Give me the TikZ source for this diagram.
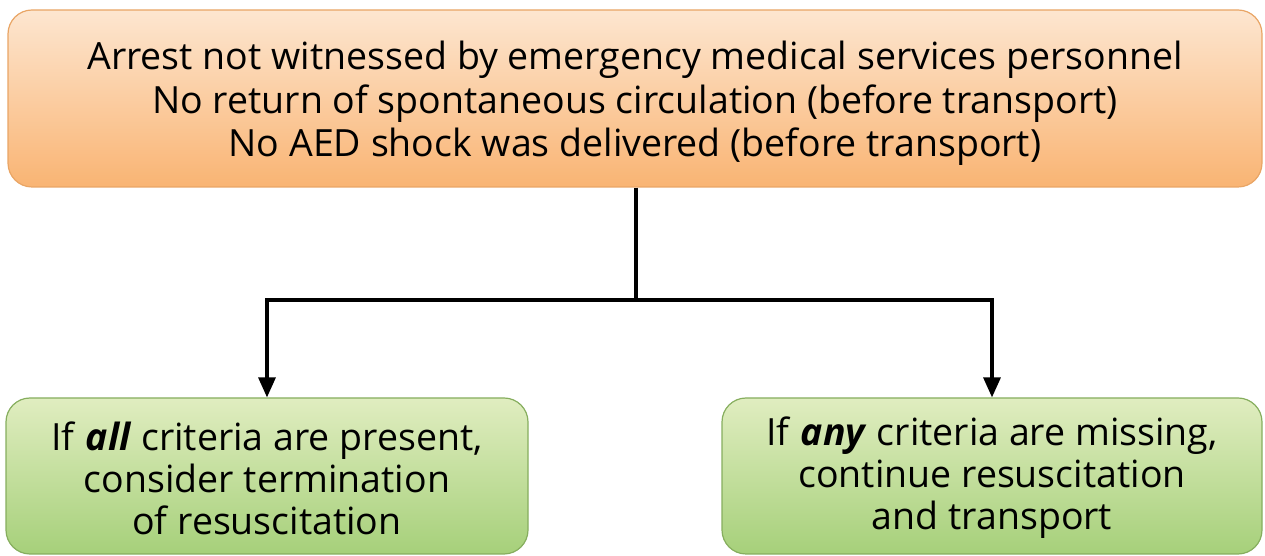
\documentclass[tikz,border=0pt]{standalone}
\usepackage{fontspec}
\setmainfont{Open Sans}
\usetikzlibrary{arrows.meta}
\definecolor{orTop}{HTML}{FDE6D0}
\definecolor{orBot}{HTML}{F9B473}
\definecolor{orLine}{HTML}{E9A565}
\definecolor{grTop}{HTML}{E0EDC0}
\definecolor{grBot}{HTML}{A6D07A}
\definecolor{grLine}{HTML}{86AE5E}
\tikzset{
  topbox/.style={draw=orLine, line width=1.2pt, rounded corners=24pt, top color=orTop, bottom color=orBot,
    minimum width=1254pt, minimum height=177pt, inner sep=0pt},
  leafbox/.style={draw=grLine, line width=1.2pt, rounded corners=24pt, top color=grTop, bottom color=grBot,
    minimum height=156pt, inner sep=0pt},
  boxtext/.style={align=center, inner sep=0pt, font=\fontsize{37.5}{43.5}\selectfont},
  conn/.style={line width=3.2pt, line cap=butt},
  arr/.style={conn, -{Triangle[length=20pt,width=17pt]}}
}
\begin{document}
\begin{tikzpicture}[x=1pt,y=1pt]
\useasboundingbox (0,0) rectangle (1265,556);
\node[topbox] (top) at (635,457.5) {};
\node[boxtext] (toptext) at ([yshift=-5pt]top.center) {Arrest not witnessed by emergency medical services personnel\\No return of spontaneous circulation (before transport)\\No AED shock was delivered (before transport)};
\node[leafbox, minimum width=522pt] (left) at (267,80) {};
\node[boxtext, font=\fontsize{37.5}{42}\selectfont] (lefttext) at ([yshift=-2pt]left.center) {If \textbf{\textit{all}} criteria are present,\\consider termination\\of resuscitation};
\node[leafbox, minimum width=540pt] (right) at (992,80) {};
\node[boxtext, font=\fontsize{37.5}{42}\selectfont] (righttext) at ([yshift=-2pt]right.center) {If \textbf{\textit{any}} criteria are missing,\\continue resuscitation\\and transport};
\coordinate (split) at (636,256);
\draw[conn] (top.south -| split) -- (split);
\draw[arr] (split) -| (left.north);
\draw[arr] (split) -| (right.north);
\end{tikzpicture}
\end{document}
